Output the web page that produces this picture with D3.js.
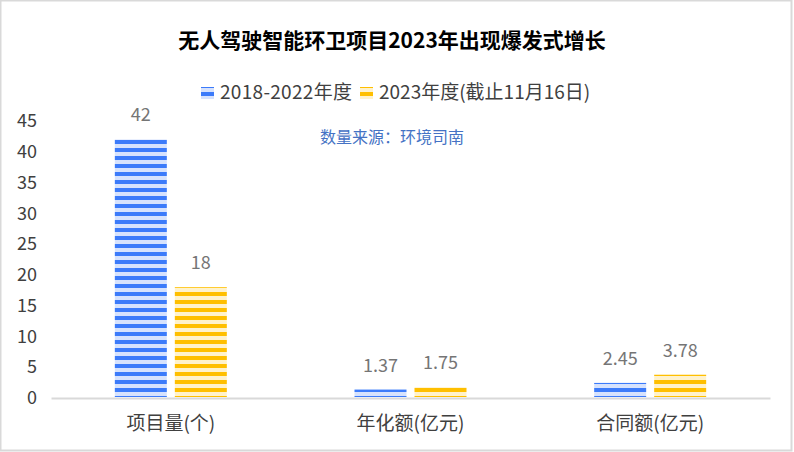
<!DOCTYPE html>
<html>
<head>
<meta charset="utf-8">
<script src="https://cdn.jsdelivr.net/npm/d3@7/dist/d3.min.js"></script>
<style>
  html, body { margin: 0; padding: 0; background: #fff; }
  text { font-family: "Noto Sans CJK SC", "Noto Sans", sans-serif; }
</style>
</head>
<body>
<div id="chart"></div>
<script>
const categories = ["项目量(个)", "年化额(亿元)", "合同额(亿元)"];
const seriesNames = ["2018-2022年度", "2023年度(截止11月16日)"];
const values2018_2022 = [42, 1.37, 2.45];
const values2023 = [18, 1.75, 3.78];
const yTicks = [0, 5, 10, 15, 20, 25, 30, 35, 40, 45];

const width = 794, height = 452;
const margin = { top: 121, right: 24, bottom: 54, left: 51 };

const svg = d3.select("#chart").append("svg")
  .attr("width", width)
  .attr("height", height);

// stripe patterns
const defs = svg.append("defs");
const colors = [
  { id: "blueStripe", dark: "#3c7bfa", light: "#d6e2fd" },
  { id: "yellowStripe", dark: "#ffbf00", light: "#fff2cb" },
];
colors.forEach((c) => {
  const p = defs.append("pattern")
    .attr("id", c.id)
    .attr("patternUnits", "userSpaceOnUse")
    .attr("width", 8).attr("height", 8);
  p.append("rect").attr("width", 8).attr("height", 4).attr("fill", c.light);
  p.append("rect").attr("y", 4).attr("width", 8).attr("height", 4).attr("fill", c.dark);
});

// border
svg.append("rect")
  .attr("x", 0.5).attr("y", 0.5)
  .attr("width", width - 3).attr("height", height - 2)
  .attr("fill", "none").attr("stroke", "#d9d9d9").attr("stroke-width", 2);

const x = d3.scaleBand()
  .domain(categories)
  .range([margin.left, width - margin.right]);

const y = d3.scaleLinear()
  .domain([0, 45])
  .range([height - margin.bottom, margin.top]);

const xSub = d3.scaleBand()
  .domain([0, 1])
  .range([0, 112])
  .paddingInner(8 / 60);

// title
svg.append("text")
  .attr("x", 392).attr("y", 48)
  .attr("text-anchor", "middle")
  .attr("font-size", 21).attr("font-weight", "bold")
  .attr("fill", "#000")
  .text("无人驾驶智能环卫项目2023年出现爆发式增长");

// legend
const legend = svg.append("g");
const legendX = [201, 360];
seriesNames.forEach((name, i) => {
  const g = legend.append("g").attr("transform", `translate(${legendX[i]},0)`);
  g.append("rect").attr("x", 0).attr("y", 87).attr("width", 13).attr("height", 12)
    .attr("fill", i === 0 ? "url(#blueStripe)" : "url(#yellowStripe)");
  g.append("text").attr("x", 19).attr("y", 99)
    .attr("font-size", 19).attr("fill", "#404040")
    .attr("letter-spacing", i === 0 ? 0.3 : 0)
    .text(name);
});

// source note
svg.append("text")
  .attr("x", 392).attr("y", 143)
  .attr("text-anchor", "middle")
  .attr("font-size", 16).attr("fill", "#4472c4")
  .text("数量来源：环境司南");

// y axis
const yAxis = svg.append("g")
  .attr("transform", `translate(${margin.left - 14},0)`)
  .call(d3.axisLeft(y).tickValues(yTicks).tickSize(0).tickPadding(0));
yAxis.select(".domain").remove();
yAxis.selectAll("text")
  .attr("font-size", 18).attr("fill", "#404040")
  .attr("font-family", "'Noto Sans', sans-serif");

// x axis
const xAxis = svg.append("g")
  .attr("transform", `translate(0,${height - margin.bottom})`)
  .call(d3.axisBottom(x).tickSize(0).tickPadding(19));
xAxis.select(".domain").attr("stroke", "#d9d9d9").attr("stroke-width", 2);
xAxis.selectAll("text")
  .attr("font-size", 19).attr("fill", "#404040");

// bars
const series = [values2018_2022, values2023];
const fills = ["url(#blueStripe)", "url(#yellowStripe)"];
categories.forEach((cat, ci) => {
  const gx = x(cat) + x.bandwidth() / 2 - 56;
  series.forEach((vals, si) => {
    const v = vals[ci];
    const bx = gx + xSub(si);
    svg.append("rect")
      .attr("x", bx)
      .attr("y", y(v))
      .attr("width", xSub.bandwidth())
      .attr("height", y(0) - y(v) - 1)
      .attr("fill", fills[si]);
    svg.append("text")
      .attr("x", bx + xSub.bandwidth() / 2)
      .attr("y", y(v) - 18)
      .attr("text-anchor", "middle")
      .attr("font-size", 18).attr("fill", "#757575")
      .attr("font-family", "'Noto Sans', sans-serif")
      .text(v);
  });
});
</script>
</body>
</html>
